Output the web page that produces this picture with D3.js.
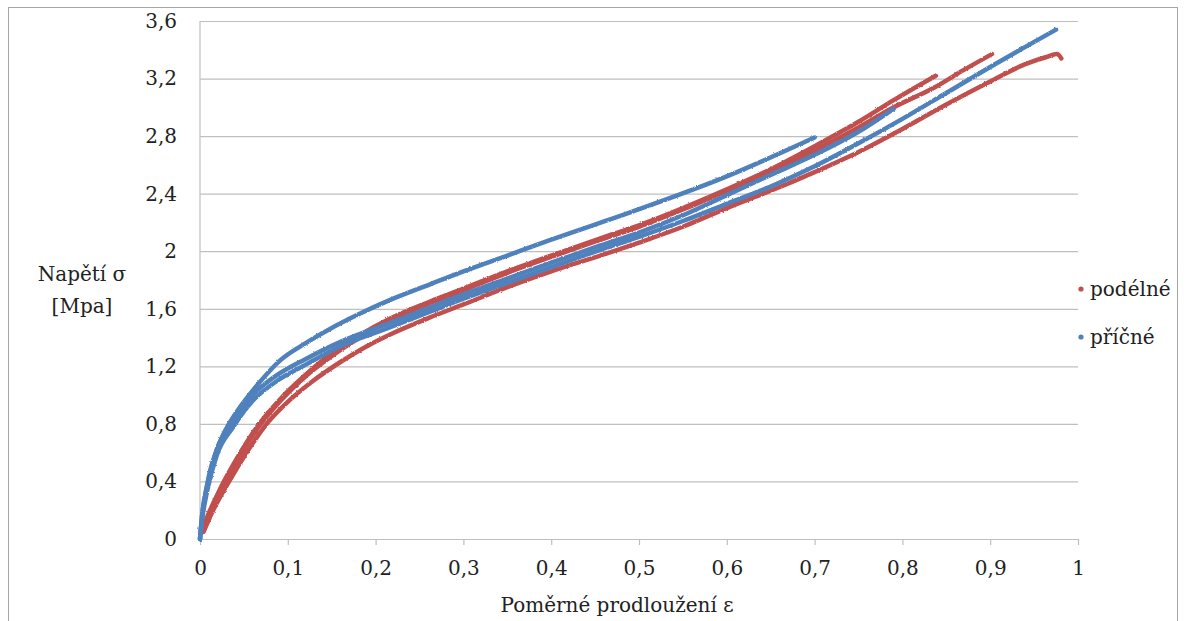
<!DOCTYPE html>
<html>
<head>
<meta charset="utf-8">
<script src="https://cdn.jsdelivr.net/npm/d3@7/dist/d3.min.js"></script>
<style>
  html, body { margin: 0; padding: 0; background: #fff; }
  svg { display: block; }
</style>
</head>
<body>
<svg id="chart" width="1187" height="621"></svg>
<script>
// Tensile test: stress vs. relative elongation, longitudinal (podélné) and transverse (příčné) specimens
const xTicks = [0, 0.1, 0.2, 0.3, 0.4, 0.5, 0.6, 0.7, 0.8, 0.9, 1];
const yTicks = [0, 0.4, 0.8, 1.2, 1.6, 2, 2.4, 2.8, 3.2, 3.6];
const seriesNames = ["podélné", "příčné"];

// podélné specimens: [strain, stress MPa]
const podelne1 = [[0.002,0.06],[0.01,0.18],[0.023,0.35],[0.042,0.56],[0.065,0.78],[0.091,0.97],[0.12,1.14],[0.15,1.29],[0.18,1.41],[0.216,1.53],[0.262,1.65],[0.3,1.74],[0.35,1.86],[0.4,1.97],[0.456,2.09],[0.5,2.18],[0.55,2.3],[0.6,2.43],[0.65,2.57],[0.7,2.73],[0.75,2.9],[0.79,3.05],[0.838,3.22]];
const podelne2 = [[0.003,0.05],[0.012,0.18],[0.025,0.35],[0.044,0.56],[0.067,0.78],[0.093,0.97],[0.122,1.14],[0.152,1.28],[0.182,1.4],[0.216,1.52],[0.262,1.64],[0.3,1.73],[0.35,1.85],[0.4,1.96],[0.456,2.08],[0.5,2.17],[0.55,2.29],[0.6,2.42],[0.65,2.55],[0.7,2.7],[0.75,2.86],[0.79,3.0],[0.837,3.14],[0.87,3.26],[0.902,3.37]];
const podelne3 = [[0.004,0.05],[0.015,0.2],[0.034,0.41],[0.053,0.6],[0.076,0.8],[0.103,0.97],[0.129,1.1],[0.16,1.23],[0.19,1.34],[0.216,1.42],[0.262,1.54],[0.3,1.63],[0.35,1.75],[0.4,1.86],[0.456,1.97],[0.5,2.06],[0.55,2.17],[0.6,2.3],[0.65,2.42],[0.7,2.55],[0.75,2.69],[0.8,2.85],[0.85,3.02],[0.9,3.18],[0.94,3.3],[0.964,3.35],[0.976,3.37],[0.981,3.34]];

// příčné specimens: [strain, stress MPa]
const pricne1 = [[0,0],[0.002,0.14],[0.006,0.3],[0.011,0.46],[0.018,0.6],[0.026,0.72],[0.036,0.83],[0.046,0.92],[0.068,1.09],[0.091,1.24],[0.12,1.36],[0.148,1.46],[0.18,1.56],[0.216,1.66],[0.262,1.77],[0.3,1.86],[0.35,1.97],[0.4,2.08],[0.49,2.27],[0.6,2.52],[0.7,2.79]];
const pricne2 = [[0,0],[0.003,0.2],[0.008,0.37],[0.019,0.62],[0.038,0.82],[0.06,1.0],[0.088,1.14],[0.12,1.25],[0.16,1.37],[0.216,1.5],[0.262,1.61],[0.3,1.7],[0.35,1.81],[0.4,1.92],[0.456,2.04],[0.5,2.13],[0.55,2.25],[0.6,2.39],[0.65,2.53],[0.7,2.67],[0.75,2.83],[0.79,2.99]];
const pricne3 = [[0,0],[0.003,0.16],[0.008,0.33],[0.019,0.58],[0.038,0.78],[0.06,0.96],[0.088,1.1],[0.12,1.21],[0.16,1.34],[0.216,1.47],[0.262,1.58],[0.3,1.67],[0.35,1.78],[0.4,1.89],[0.456,2.01],[0.5,2.1],[0.55,2.21],[0.6,2.33],[0.65,2.45],[0.7,2.59],[0.75,2.75],[0.8,2.92],[0.85,3.1],[0.9,3.28],[0.94,3.42],[0.975,3.54]];

const RED = "#c0504d";
const BLUE = "#4f81bd";
const SERIF = "DejaVu Serif";
const FS = 20;

const svg = d3.select("#chart");
const plot = { left: 200, right: 1078, top: 21, bottom: 539 };

const x = d3.scaleLinear().domain([0, 1]).range([plot.left, plot.right]);
const y = d3.scaleLinear().domain([0, 3.6]).range([plot.bottom, plot.top]);
const fmt = d => String(d).replace(".", ",");

// outer chart frame
svg.append("rect")
  .attr("x", 8.5).attr("y", 7.5).attr("width", 1169).attr("height", 640)
  .attr("fill", "none").attr("stroke", "#a6a6a6").attr("stroke-width", 1);

// slight roughness for the dense scatter bands
const defs = svg.append("defs");
const f = defs.append("filter").attr("id", "rough").attr("x", "-5%").attr("y", "-5%").attr("width", "110%").attr("height", "110%");
f.append("feTurbulence").attr("type", "fractalNoise").attr("baseFrequency", 0.8).attr("numOctaves", 1).attr("seed", 3).attr("result", "n");
f.append("feDisplacementMap").attr("in", "SourceGraphic").attr("in2", "n").attr("scale", 2.4).attr("xChannelSelector", "R").attr("yChannelSelector", "G");

// horizontal gridlines + y labels
const yAxis = d3.axisLeft(y).tickValues(yTicks).tickSize(-(plot.right - plot.left)).tickPadding(23).tickFormat(fmt);
const gy = svg.append("g").attr("transform", `translate(${plot.left},0)`).call(yAxis)
  .attr("font-family", SERIF).attr("font-size", FS);
gy.select(".domain").remove();
gy.selectAll(".tick line").attr("stroke", "#bfbfbf").attr("stroke-width", 1.2);
gy.selectAll(".tick text").attr("fill", "#222");

// vertical axis line
svg.append("line")
  .attr("x1", plot.left).attr("x2", plot.left).attr("y1", plot.top).attr("y2", plot.bottom)
  .attr("stroke", "#bfbfbf").attr("stroke-width", 1.2);

// x axis
const xAxis = d3.axisBottom(x).tickValues(xTicks).tickSizeInner(6).tickSizeOuter(0).tickPadding(16).tickFormat(fmt);
const gx = svg.append("g").attr("transform", `translate(0,${plot.bottom})`).call(xAxis)
  .attr("font-family", SERIF).attr("font-size", FS);
gx.select(".domain").attr("stroke", "#bfbfbf").attr("stroke-width", 1.2);
gx.selectAll(".tick line").attr("stroke", "#bfbfbf").attr("stroke-width", 1.2);
gx.selectAll(".tick text").attr("fill", "#222");

// curves
const line = d3.line().x(d => x(d[0])).y(d => y(d[1])).curve(d3.curveMonotoneX);
const curves = [
  { data: podelne1, color: RED },
  { data: podelne2, color: RED },
  { data: podelne3, color: RED },
  { data: pricne1, color: BLUE },
  { data: pricne2, color: BLUE },
  { data: pricne3, color: BLUE }
];
const gc = svg.append("g").attr("filter", "url(#rough)");
gc.selectAll("path").data(curves).join("path")
  .attr("d", d => line(d.data))
  .attr("fill", "none")
  .attr("stroke", d => d.color)
  .attr("stroke-width", 4.5)
  .attr("stroke-linecap", "round")
  .attr("stroke-linejoin", "round");

// axis titles
const addText = (tx, ty, anchor, str) => svg.append("text")
  .attr("x", tx).attr("y", ty).attr("text-anchor", anchor)
  .attr("font-family", SERIF).attr("font-size", FS).attr("fill", "#222").text(str);
addText(617, 612, "middle", "Poměrné prodloužení ε");
addText(82, 281, "middle", "Napětí σ");
addText(82, 313, "middle", "[Mpa]");

// legend
const legendItems = [
  { name: seriesNames[0], color: RED, cy: 289 },
  { name: seriesNames[1], color: BLUE, cy: 337 }
];
legendItems.forEach(it => {
  svg.append("circle").attr("cx", 1081).attr("cy", it.cy).attr("r", 2.6).attr("fill", it.color);
  addText(1090, it.cy + 7, "start", it.name);
});
</script>
</body>
</html>
